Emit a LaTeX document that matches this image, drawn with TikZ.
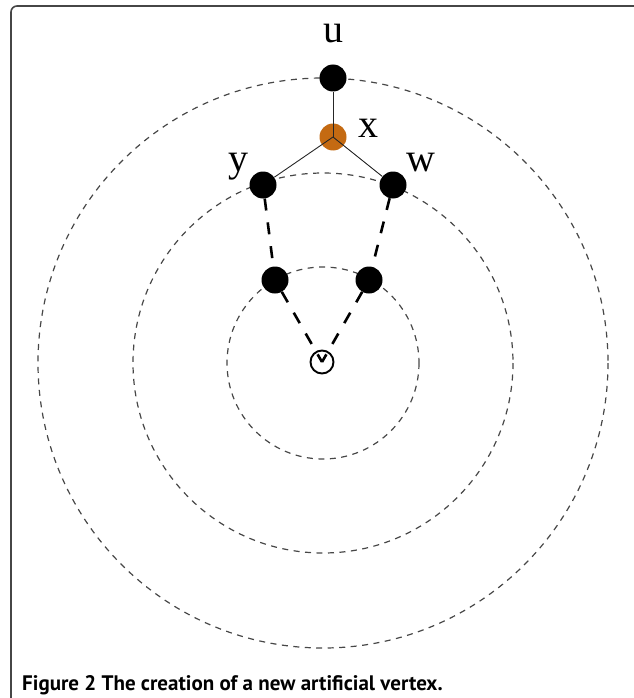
\documentclass[tikz,border=0pt]{standalone}
\usepackage{fontspec}
\setmainfont{Liberation Serif}
\newfontfamily\capfont{PT Sans}
\usepackage{tikz}
\usetikzlibrary{positioning}
\definecolor{vtxorange}{RGB}{196,106,18}
\definecolor{framegray}{RGB}{70,70,70}

\begin{document}
\begin{tikzpicture}[
    x=1pt, y=-1pt,
    vtx/.style={circle, fill=black, inner sep=0pt, minimum size=27pt},
    lbl/.style={inner sep=0pt, font=\fontsize{40}{44}\selectfont},
    ring/.style={dashed, dash pattern=on 6pt off 5.5pt, line width=1.2pt, black!72},
    edge/.style={line width=0.9pt, black!85},
    conn/.style={line width=2.6pt, dash pattern=on 12pt off 12pt},
]
    \useasboundingbox (0,0) rectangle (633,698);
    % frame
    \draw[framegray, line width=1.6pt, rounded corners=6pt] (11,698) -- (11,6) -- (640,6);

    % rings round the origin
    \node[draw, circle, line width=1.9pt, inner sep=0pt, minimum size=23pt] (o) at (322,362) {};
    \draw[ring] (323,363) circle[radius=96];
    \draw[ring] (323,363) circle[radius=190];
    \draw[ring] (323,363) circle[radius=285];

    \node[vtx] (u) at (333,78) {};
    \node[vtx, fill=vtxorange] (x) at (333,137) {};
    \node[vtx] (y) at (263,185) {};
    \node[vtx] (w) at (393,185) {};
    \node[vtx] (a) at (275,280) {};
    \node[vtx] (b) at (369,280) {};

    \node[lbl] at (333,34) {u};
    \node[lbl] at (368,128) {x};
    \node[lbl] at (238,167) {y};
    \node[lbl] at (421,163) {w};

    \draw[edge] (x.center) -- (u);
    \draw[edge] (x.center) -- (y);
    \draw[edge] (x.center) -- (w);

    \draw[conn] (y) -- (a);
    \draw[conn] (w) -- (b);
    \draw[conn] (a) -- (o.center);
    \draw[conn] (b) -- (o.center);

    \node[anchor=base west, inner sep=0pt, font=\capfont\bfseries\fontsize{21}{24}\selectfont]
        (cap) at (22,690) {Figure 2 The creation of a new artificial vertex.};
\end{tikzpicture}
\end{document}
